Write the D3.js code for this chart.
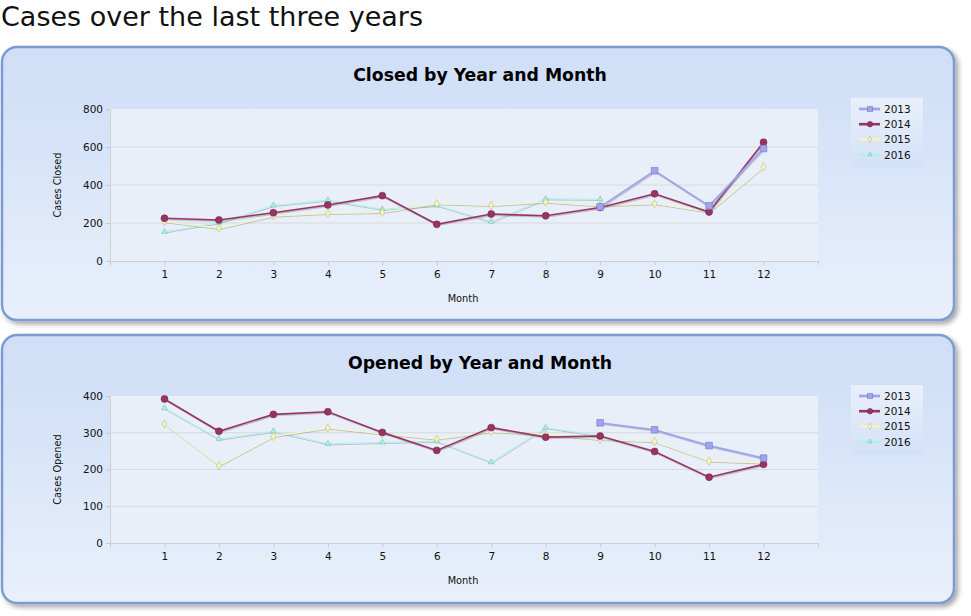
<!DOCTYPE html>
<html lang="en">
<head>
  <meta charset="UTF-8">
  <title>Cases over the last three years</title>
  <script src="https://d3js.org/d3.v7.min.js"></script>
  <style>
    body { margin: 0; background: #fff; font-family: "DejaVu Sans", sans-serif; }
    svg { display: block; }
    .tick text { font-family: "DejaVu Sans", sans-serif; font-size: 10.5px; fill: #111; }
  </style>
</head>
<body>
  <svg id="page" width="971" height="616"></svg>

  <script>
    const months = [1, 2, 3, 4, 5, 6, 7, 8, 9, 10, 11, 12];
    const years = ["2013", "2014", "2015", "2016"];

    // Closed by year and month (null = no data)
    const closed2013 = [null, null, null, null, null, null, null, null, 285, 475, 290, 592];
    const closed2014 = [225, 216, 254, 295, 344, 193, 247, 238, 282, 354, 258, 625];
    const closed2015 = [207, 172, 237, 251, 256, 302, 293, 310, 291, 302, 258, 496];
    const closed2016 = [154, 202, 293, 321, 272, 293, 207, 328, 325, null, null, null];

    // Opened by year and month
    const opened2013 = [null, null, null, null, null, null, null, null, 327, 308, 265, 231];
    const opened2014 = [392, 304, 350, 357, 301, 252, 314, 288, 291, 249, 179, 214];
    const opened2015 = [324, 211, 290, 313, 297, 283, 303, 295, 282, 276, 223, 218];
    const opened2016 = [367, 283, 304, 270, 274, 277, 220, 314, 292, null, null, null];

    const closedTicks = [0, 200, 400, 600, 800];
    const openedTicks = [0, 100, 200, 300, 400];

    const styles = {
      "2013": { color: "#a0a2f2", width: 1.7, marker: d3.symbolSquare, size: 44 },
      "2014": { color: "#993366", width: 1.6, marker: d3.symbolCircle, size: 38 },
      "2015": { color: "#f7f7b8", width: 1, marker: d3.symbolDiamond, size: 20 },
      "2016": { color: "#a8f4f0", width: 1, marker: d3.symbolTriangle, size: 14 }
    };

    const svg = d3.select("#page");
    const defs = svg.append("defs");

    const grad = defs.append("linearGradient").attr("id", "panelGrad")
      .attr("x1", 0).attr("y1", 0).attr("x2", 0).attr("y2", 1);
    grad.append("stop").attr("offset", "0%").attr("stop-color", "#cfdff7");
    grad.append("stop").attr("offset", "35%").attr("stop-color", "#d6e3f8");
    grad.append("stop").attr("offset", "100%").attr("stop-color", "#e9f0fb");

    const legGrad = defs.append("linearGradient").attr("id", "legGrad")
      .attr("x1", 0).attr("y1", 0).attr("x2", 0).attr("y2", 1);
    legGrad.append("stop").attr("offset", "0%").attr("stop-color", "#e9f0fb");
    legGrad.append("stop").attr("offset", "100%").attr("stop-color", "#d3e1f7");

    const shadow = defs.append("filter").attr("id", "shadow")
      .attr("x", "-5%").attr("y", "-5%").attr("width", "110%").attr("height", "120%");
    shadow.append("feDropShadow").attr("dx", 3).attr("dy", 3).attr("stdDeviation", 2.5)
      .attr("flood-color", "#000").attr("flood-opacity", 0.35);

    svg.append("text")
      .attr("x", 1).attr("y", 26)
      .style("font-family", "'DejaVu Sans', sans-serif")
      .style("font-size", "27px")
      .attr("fill", "#111")
      .text("Cases over the last three years");

    function drawChart(cfg) {
      const g = svg.append("g").attr("transform", `translate(0,${cfg.top})`);

      g.append("rect")
        .attr("x", 2).attr("y", 0).attr("width", 952).attr("height", cfg.height)
        .attr("rx", 15).attr("ry", 15)
        .attr("fill", "url(#panelGrad)")
        .attr("stroke", "#7d9bd1").attr("stroke-width", 2.5)
        .attr("filter", "url(#shadow)");

      g.append("text")
        .attr("x", 480).attr("y", 34)
        .attr("text-anchor", "middle")
        .style("font-family", "'DejaVu Sans', sans-serif")
        .style("font-size", "17.3px").style("font-weight", "bold")
        .attr("fill", "#000")
        .text(cfg.title);

      const x = d3.scaleLinear().domain([0, 13]).range([110, 818]);
      const y = d3.scaleLinear().domain([0, cfg.max]).range([cfg.plotTop + cfg.plotH, cfg.plotTop]);

      g.append("rect")
        .attr("x", 110).attr("y", cfg.plotTop)
        .attr("width", 708).attr("height", cfg.plotH)
        .attr("fill", "#e9eff9");

      // gridlines
      g.append("g").selectAll("line")
        .data(cfg.ticks.filter(t => t > 0 && t < cfg.max))
        .enter().append("line")
        .attr("x1", 110).attr("x2", 818)
        .attr("y1", d => y(d)).attr("y2", d => y(d))
        .attr("stroke", "#d9d9d9").attr("stroke-width", 1);

      const yAxis = g.append("g")
        .attr("transform", "translate(110,0)")
        .call(d3.axisLeft(y).tickValues(cfg.ticks).tickSize(4).tickPadding(3));
      yAxis.select(".domain").attr("stroke", "#d0d0d0");
      yAxis.selectAll(".tick line").attr("stroke", "#c8c8c8");

      const xAxis = g.append("g")
        .attr("transform", `translate(0,${cfg.plotTop + cfg.plotH})`)
        .call(d3.axisBottom(x).tickValues([0].concat(months, [13])).tickSize(4).tickPadding(6)
          .tickFormat(d => (d >= 1 && d <= 12) ? d : ""));
      xAxis.select(".domain").attr("stroke", "#d0d0d0");
      xAxis.selectAll(".tick line").attr("stroke", "#c8c8c8");

      g.append("text")
        .attr("transform", `translate(61,${cfg.plotTop + cfg.plotH / 2}) rotate(-90)`)
        .attr("text-anchor", "middle")
        .style("font-size", "9.8px").attr("fill", "#111")
        .text(cfg.yLabel);

      g.append("text")
        .attr("x", 463).attr("y", cfg.plotTop + cfg.plotH + 41)
        .attr("text-anchor", "middle")
        .style("font-size", "9.8px").attr("fill", "#111")
        .text("Month");

      const line = d3.line()
        .defined(d => d.v !== null)
        .x(d => x(d.m)).y(d => y(d.v));

      // draw in order 2016, 2015, 2014, 2013 so heavier lines sit on top
      years.slice().reverse().forEach(yr => {
        const s = styles[yr];
        const pts = months.map((m, i) => ({ m: m, v: cfg.series[yr][i] }));
        const valid = pts.filter(d => d.v !== null);

        g.append("path").datum(pts)
          .attr("d", line)
          .attr("transform", "translate(0.8,1.2)")
          .attr("fill", "none").attr("stroke", "#8a8a8a")
          .attr("stroke-opacity", 0.45).attr("stroke-width", s.width);

        g.append("path").datum(pts)
          .attr("d", line)
          .attr("fill", "none").attr("stroke", s.color)
          .attr("stroke-width", s.width);

        g.append("g").selectAll("path")
          .data(valid).enter().append("path")
          .attr("transform", d => `translate(${x(d.m)},${y(d.v)})`)
          .attr("d", d3.symbol().type(s.marker).size(s.size))
          .attr("fill", s.color)
          .attr("stroke", d3.color(s.color).darker(0.8))
          .attr("stroke-width", 0.6);
      });

      // legend
      const leg = g.append("g").attr("transform", `translate(851,${cfg.legTop})`);
      leg.append("rect")
        .attr("width", 72).attr("height", 70)
        .attr("fill", "url(#legGrad)");
      years.forEach((yr, i) => {
        const s = styles[yr];
        const ly = 11 + i * 15.2;
        leg.append("line")
          .attr("x1", 8).attr("x2", 29).attr("y1", ly).attr("y2", ly)
          .attr("stroke", s.color).attr("stroke-width", s.width + 1);
        leg.append("path")
          .attr("transform", `translate(19,${ly})`)
          .attr("d", d3.symbol().type(s.marker).size(s.size * 0.6))
          .attr("fill", s.color)
          .attr("stroke", d3.color(s.color).darker(0.8)).attr("stroke-width", 0.6);
        leg.append("text")
          .attr("x", 33).attr("y", ly + 4)
          .style("font-size", "10.5px").attr("fill", "#111")
          .text(yr);
      });
    }

    drawChart({
      top: 47, height: 273, title: "Closed by Year and Month",
      plotTop: 62, plotH: 152, max: 800, ticks: closedTicks,
      yLabel: "Cases Closed", legTop: 51,
      series: { "2013": closed2013, "2014": closed2014, "2015": closed2015, "2016": closed2016 }
    });

    drawChart({
      top: 335, height: 268, title: "Opened by Year and Month",
      plotTop: 61, plotH: 147, max: 400, ticks: openedTicks,
      yLabel: "Cases Opened", legTop: 50,
      series: { "2013": opened2013, "2014": opened2014, "2015": opened2015, "2016": opened2016 }
    });
  </script>
</body>
</html>
